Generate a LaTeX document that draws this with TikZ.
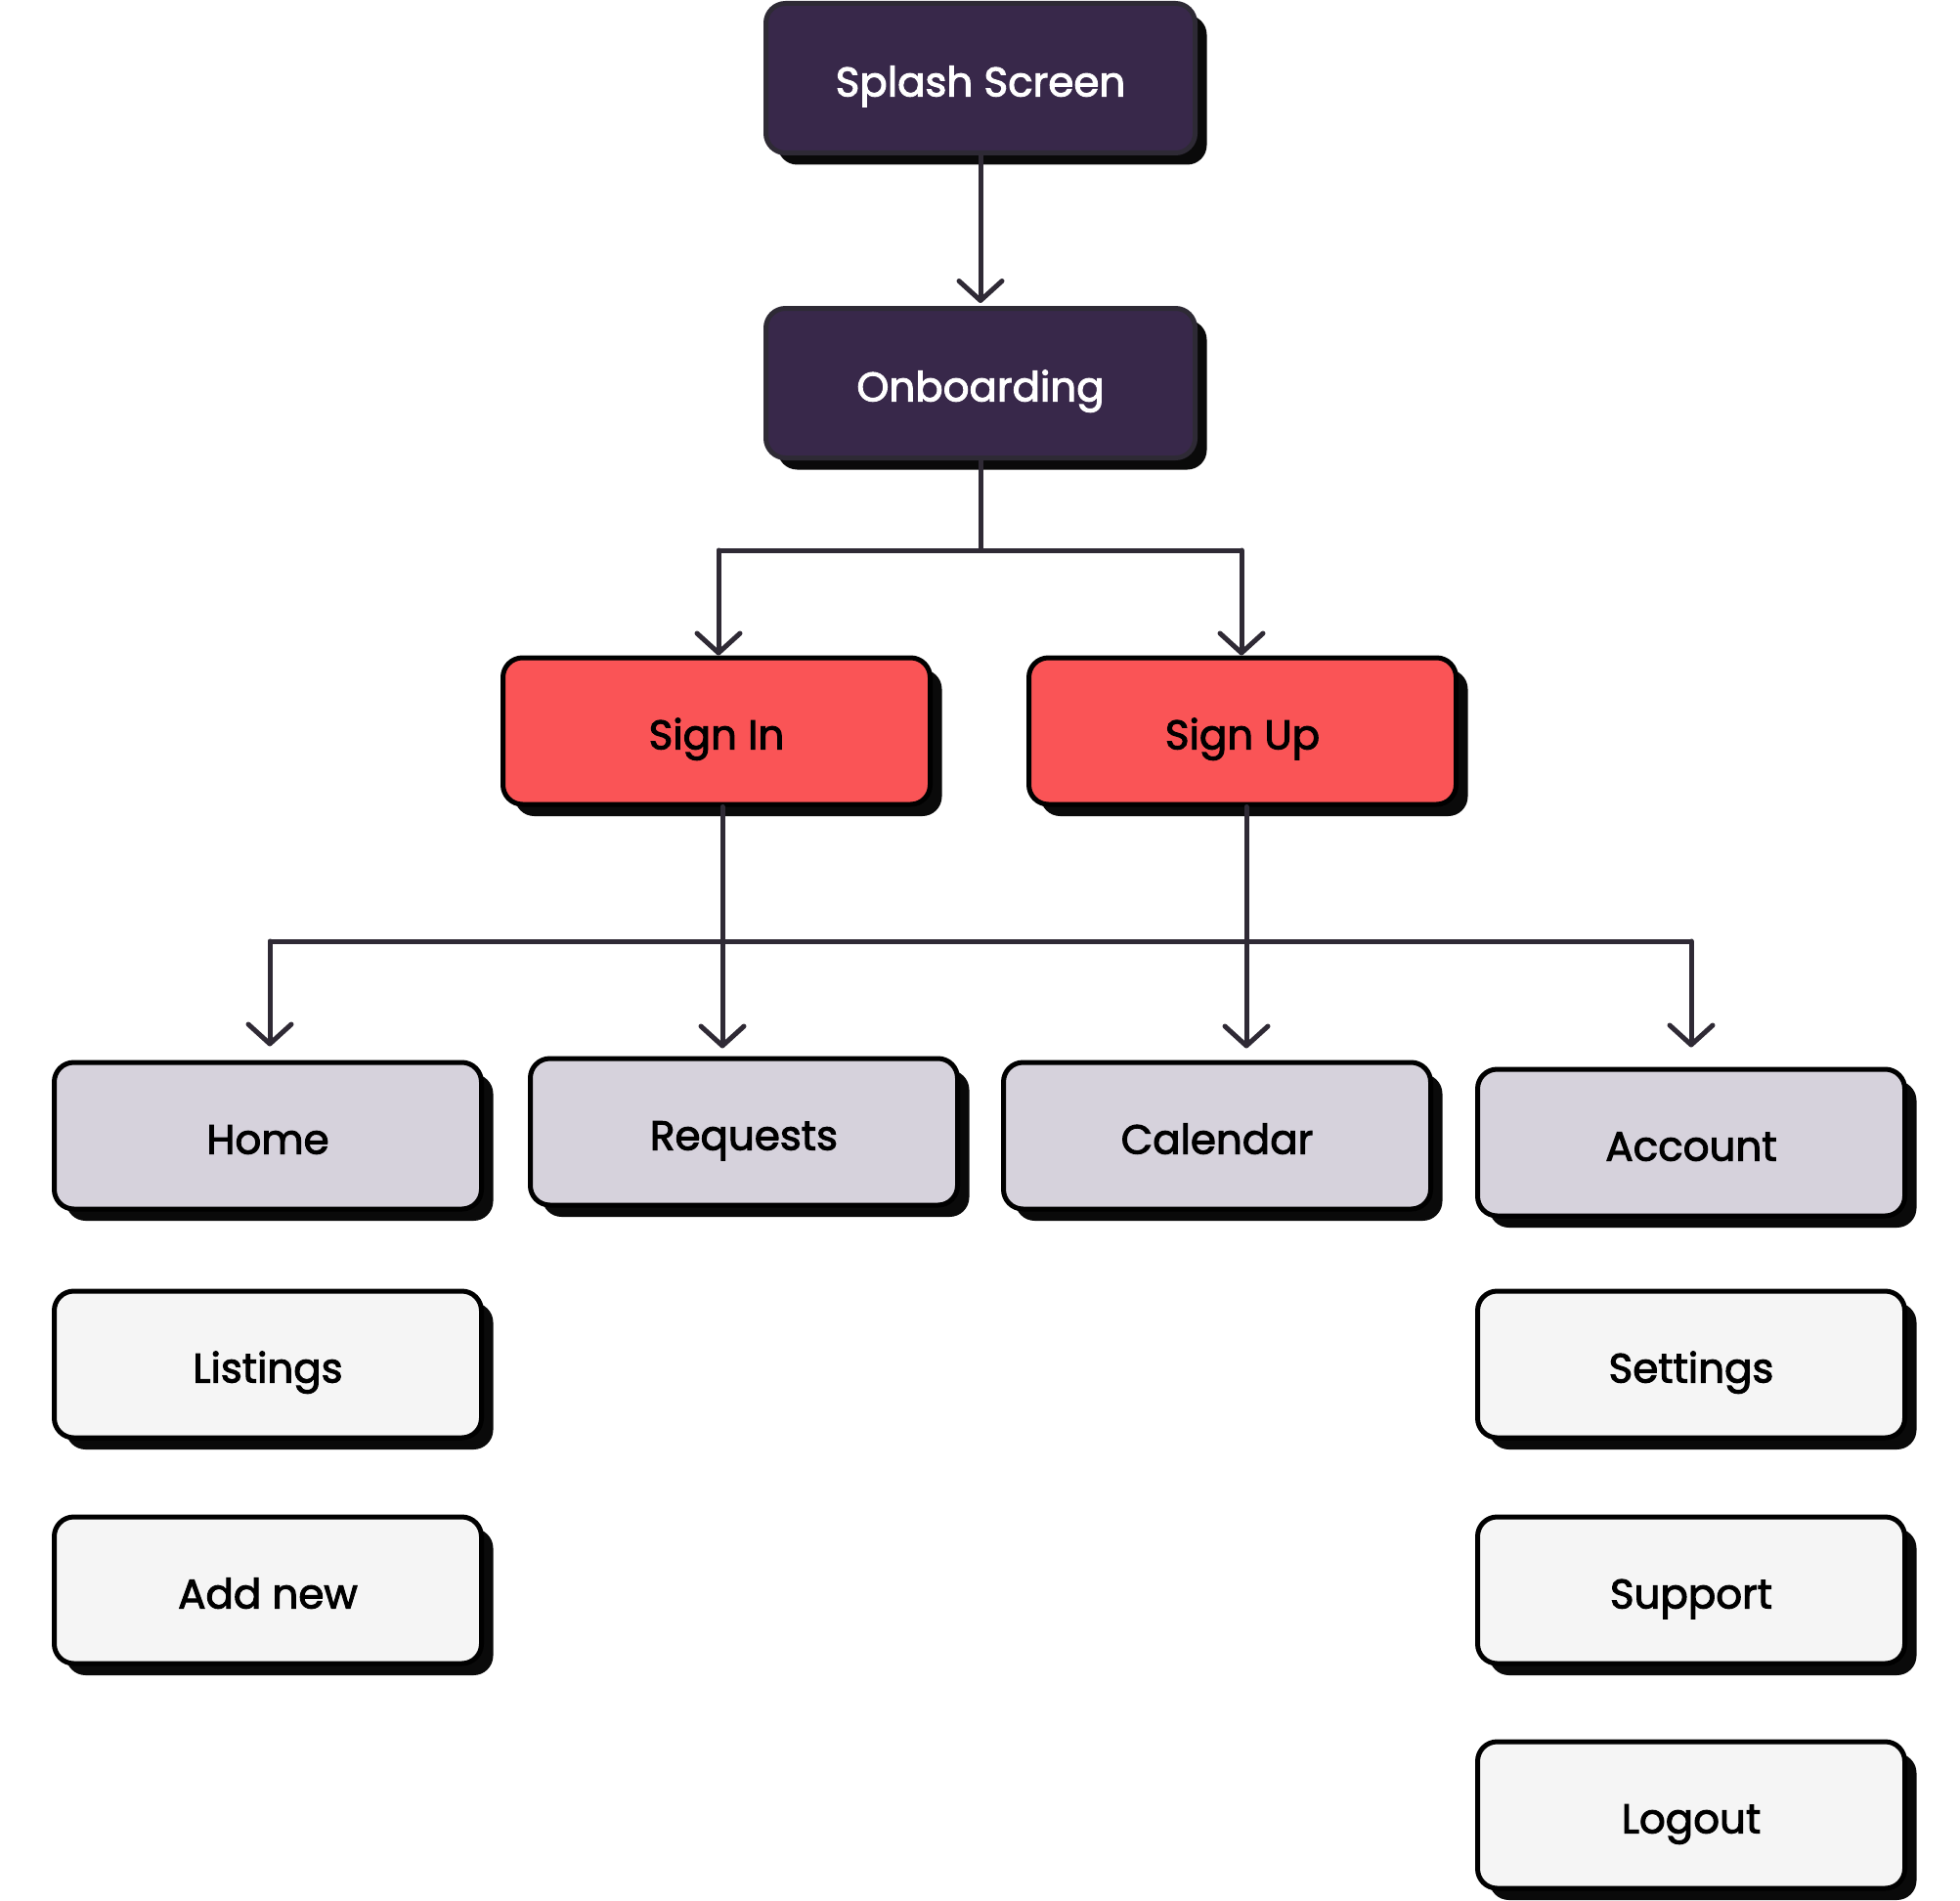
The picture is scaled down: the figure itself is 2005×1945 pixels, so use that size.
\documentclass[tikz,border=0pt]{standalone}
\usepackage{fontspec}
\newfontfamily\boxfont{Poppins}[FakeBold=2.4]
\usetikzlibrary{arrows.meta,shadows}
\definecolor{darkbox}{HTML}{38284A}
\definecolor{darkedge}{HTML}{2E2A35}
\definecolor{redbox}{HTML}{FA5456}
\definecolor{grayb}{HTML}{D6D2DC}
\definecolor{lightb}{HTML}{F5F5F5}
\definecolor{linec}{HTML}{2F2A35}
\tikzset{
  box/.style={rounded corners=20pt, minimum width=437pt, minimum height=150pt,
    line width=5pt, draw=black, font=\boxfont\fontsize{42}{50}\selectfont, text=black,
    text height=37pt, text depth=0pt,
    drop shadow={shadow xshift=12pt, shadow yshift=-12pt, fill=black!96, opacity=1}},
  darkn/.style={box, fill=darkbox, draw=darkedge, text=white, minimum width=439pt, minimum height=153pt},
  redn/.style={box, fill=redbox},
  grayn/.style={box, fill=grayb},
  lightn/.style={box, fill=lightb},
  conn/.style={draw=linec, line width=5pt},
  arr/.style={conn, -{Straight Barb[length=20pt, width=44pt, line width=5pt, round]}, line cap=round}
}
\begin{document}
\begin{tikzpicture}[x=1pt, y=-1pt]
\useasboundingbox (0,0) rectangle (2005,1945);
\node[darkn] (splash) at (1003,80) {Splash Screen};
\node[darkn] (onb) at (1003,392) {Onboarding};
\node[redn] (signin) at (733,748) {Sign In};
\node[redn] (signup) at (1271,748) {Sign Up};
\node[grayn] (home) at (274,1162) {Home};
\node[grayn] (req) at (761,1158) {Requests};
\node[grayn] (cal) at (1245,1162) {Calendar};
\node[grayn] (acc) at (1730,1169) {Account};
\node[lightn] (list) at (274,1396) {Listings};
\node[lightn] (addn) at (274,1627) {Add new};
\node[lightn] (sett) at (1730,1396) {Settings};
\node[lightn] (supp) at (1730,1627) {Support};
\node[lightn] (logo) at (1730,1857) {Logout};
\coordinate (j1) at (1006,563);
\coordinate (busL) at (276,963);
\coordinate (busR) at (1730,963);
\draw[arr, shorten >=3pt] (splash.south) -- (onb.north);
\draw[conn] (onb.south) -- (onb.south |- j1);
\draw[arr] (735,563) -- (735,563 |- signin.north);
\draw[arr] (1270,563) -- (1270,563 |- signup.north);
\draw[conn] (735,563) -- (1270,563);
\draw[conn] (busL) -- (busR);
\draw[arr, shorten >=12pt] ([xshift=6pt]signin.south) -- ([xshift=6pt]signin.south |- home.north);
\draw[arr, shorten >=12pt] ([xshift=4pt]signup.south) -- ([xshift=4pt]signup.south |- cal.north);
\draw[arr, shorten >=14pt] (busL) -- (busL |- home.north);
\draw[arr, shorten >=20pt] (busR) -- (busR |- acc.north);
\end{tikzpicture}
\end{document}
